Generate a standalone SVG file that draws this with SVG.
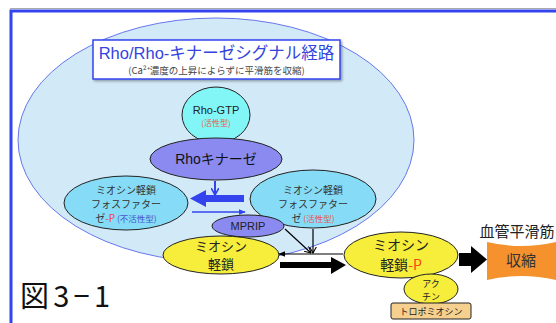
<svg xmlns="http://www.w3.org/2000/svg" width="556" height="323" viewBox="0 0 556 323">
<defs>
<style>
.jp{font-family:"Noto Sans CJK JP","Liberation Sans",sans-serif;}
.en{font-family:"Liberation Sans","Noto Sans CJK JP",sans-serif;}
.node{stroke:#222;stroke-width:1;}
</style>
<filter id="sh" x="-10%" y="-10%" width="130%" height="140%"><feDropShadow dx="1.5" dy="1.5" stdDeviation="1" flood-color="#000" flood-opacity="0.35"/></filter>
<marker id="vb" viewBox="0 0 10 10" refX="9" refY="5" markerWidth="7" markerHeight="7" orient="auto" markerUnits="userSpaceOnUse"><path d="M0,0 L9,5 L0,10" fill="none" stroke="#000" stroke-width="1.5"/></marker>
<marker id="vblue" viewBox="0 0 10 10" refX="9" refY="5" markerWidth="8" markerHeight="8" orient="auto" markerUnits="userSpaceOnUse"><path d="M0,0 L9,5 L0,10" fill="none" stroke="#3344ee" stroke-width="2"/></marker>
<marker id="tblack" viewBox="0 0 10 10" refX="9" refY="5" markerWidth="7" markerHeight="7" orient="auto" markerUnits="userSpaceOnUse"><path d="M0,1 L10,5 L0,9 z" fill="#000"/></marker>
<marker id="tblue" viewBox="0 0 10 10" refX="9" refY="5" markerWidth="7" markerHeight="7" orient="auto" markerUnits="userSpaceOnUse"><path d="M0,1 L10,5 L0,9 z" fill="#3344ee"/></marker>
</defs>
<rect width="556" height="323" fill="#fff"/>
<rect x="11" y="11" width="560" height="330" fill="none" stroke="#3344ee" stroke-width="3"/>
<line x1="10" y1="8.5" x2="556" y2="8.5" stroke="#aaa" stroke-width="1"/>

<g id="pathway-area">
<ellipse cx="216" cy="140" rx="198" ry="122" fill="#d2e9f8" stroke="#6677ee" stroke-width="1"/>
</g>

<g id="title">
<rect x="93" y="40" width="247" height="39" fill="#fff" stroke="#3344ee" stroke-width="1.5" filter="url(#sh)"/>
<text x="216.5" y="59" text-anchor="middle" class="en" font-size="16.5" fill="#3344dd">Rho/Rho-キナーゼシグナル経路</text>
<text x="216.5" y="74" text-anchor="middle" class="jp" font-size="9.5" fill="#444">(Ca²⁺濃度の上昇によらずに平滑筋を収縮)</text>
</g>

<g id="connectors">
<rect x="203" y="195" width="41" height="7" fill="#3344ee"/>
<path d="M190,198.5 L206,190 L206,207 z" fill="#3344ee"/>
<line x1="215" y1="181" x2="215" y2="195" stroke="#3344ee" stroke-width="2" marker-end="url(#vblue)"/>
<line x1="192" y1="212" x2="245" y2="212" stroke="#3344ee" stroke-width="1.5" marker-end="url(#tblue)"/>
<line x1="343" y1="254" x2="279" y2="254" stroke="#000" stroke-width="1.2" marker-end="url(#tblack)"/>
<line x1="285" y1="229" x2="311" y2="253" stroke="#000" stroke-width="1.2" marker-end="url(#vb)"/>
<line x1="313" y1="229" x2="313" y2="253" stroke="#000" stroke-width="1.2" marker-end="url(#vb)"/>
<rect x="280" y="262" width="52" height="6" fill="#000"/>
<path d="M331,257 L346,265 L331,274 z" fill="#000"/>
<rect x="459" y="253" width="14" height="13" fill="#000"/>
<path d="M471,246 L487,259.5 L471,273 z" fill="#000"/>
</g>

<g id="rho-gtp">
<ellipse cx="216" cy="115" rx="34" ry="28" fill="#82f6f6" class="node"/>
<text x="216" y="114" text-anchor="middle" class="en" font-size="11" fill="#222">Rho-GTP</text>
<text x="216" y="126" text-anchor="middle" class="jp" font-size="8" fill="#ee5555">(活性型)</text>
</g>

<g id="rho-kinase">
<ellipse cx="216" cy="159" rx="66" ry="21" fill="#8a8af0" class="node"/>
<text x="216" y="164" text-anchor="middle" class="en" font-size="14" fill="#111">Rhoキナーゼ</text>
</g>

<g id="mlcp-inactive">
<ellipse cx="126" cy="203" rx="62" ry="27" fill="#86dcf6" class="node"/>
<text x="126" y="194" text-anchor="middle" class="jp" font-size="10" fill="#333">ミオシン軽鎖</text>
<text x="126" y="208" text-anchor="middle" class="jp" font-size="10" fill="#333">フォスファター</text>
<text x="126" y="222" text-anchor="middle" class="jp" font-size="10" fill="#333">ゼ<tspan fill="#ee4444">-P</tspan><tspan font-size="8.5" fill="#4455cc"> (不活性型)</tspan></text>
</g>

<g id="mlcp-active">
<ellipse cx="313" cy="199" rx="63" ry="29" fill="#86dcf6" class="node"/>
<text x="313" y="194" text-anchor="middle" class="jp" font-size="10" fill="#333">ミオシン軽鎖</text>
<text x="313" y="208" text-anchor="middle" class="jp" font-size="10" fill="#333">フォスファター</text>
<text x="313" y="222" text-anchor="middle" class="jp" font-size="10" fill="#333">ゼ<tspan font-size="8.5" fill="#ee5555"> (活性型)</tspan></text>
</g>

<g id="mprip">
<ellipse cx="248" cy="226" rx="36" ry="11" fill="#8a8af0" class="node"/>
<text x="248" y="230" text-anchor="middle" class="en" font-size="11" fill="#222">MPRIP</text>
</g>

<g id="mlc">
<ellipse cx="221" cy="255" rx="58" ry="19" fill="#f6ee3a" class="node"/>
<text x="221" y="251" text-anchor="middle" class="jp" font-size="13" fill="#222">ミオシン</text>
<text x="221" y="269" text-anchor="middle" class="jp" font-size="13" fill="#222">軽鎖</text>
</g>

<g id="mlc-p">
<ellipse cx="401" cy="255" rx="57" ry="23" fill="#f6ee3a" class="node"/>
<text x="401" y="250" text-anchor="middle" class="jp" font-size="14" fill="#222">ミオシン</text>
<text x="401" y="270" text-anchor="middle" class="jp" font-size="14" fill="#222">軽鎖<tspan fill="#ff4411">-P</tspan></text>
</g>

<g id="actin">
<ellipse cx="431" cy="289" rx="27" ry="15" fill="#f6ee3a" class="node"/>
<text x="431" y="287" text-anchor="middle" class="jp" font-size="9" fill="#222">アク</text>
<text x="431" y="300" text-anchor="middle" class="jp" font-size="9" fill="#222">チン</text>
</g>

<g id="tropomyosin">
<rect x="391" y="303" width="80" height="16" rx="2" fill="#f6d08e" class="node"/>
<text x="431" y="315" text-anchor="middle" class="jp" font-size="9" fill="#222">トロポミオシン</text>
</g>

<g id="contraction">
<text x="517" y="237" text-anchor="middle" class="jp" font-size="15" fill="#222">血管平滑筋</text>
<path d="M487,242 Q521,250 556,242 L556,280 Q521,272 487,280 z" fill="#f5922e"/>
<text x="521" y="266" text-anchor="middle" class="jp" font-size="15" fill="#333">収縮</text>
</g>

<g id="figure-label">
<text x="20" y="307" class="jp" font-size="29" fill="#111" textLength="90" lengthAdjust="spacing">図3−1</text>
</g>
</svg>
